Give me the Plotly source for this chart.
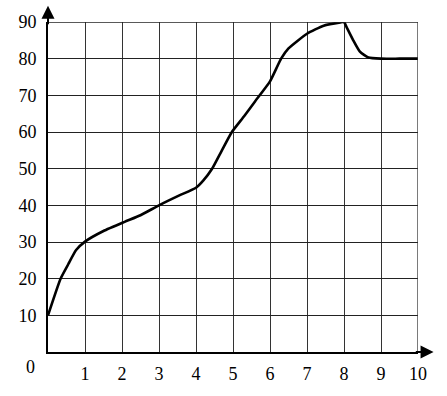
import plotly.graph_objects as go

# Curve samples
time_x = [0, 0.34, 0.55, 0.76, 1, 1.5, 2.07, 2.5, 3, 3.55, 4, 4.2, 4.43, 4.7, 4.97, 5.3, 5.6, 6, 6.3, 6.5, 7, 7.45, 7.9, 8, 8.07, 8.25, 8.43, 8.66, 9, 9.5, 10]
temp_y = [10, 20, 24, 27.8, 30.1, 33, 35.5, 37.3, 40, 42.7, 44.8, 46.8, 49.9, 55, 60, 64.3, 68.4, 73.8, 80, 82.8, 86.8, 89, 89.9, 90, 88.6, 85, 81.9, 80.3, 80, 80, 80]

x_ticks = [1, 2, 3, 4, 5, 6, 7, 8, 9, 10]
y_ticks = [10, 20, 30, 40, 50, 60, 70, 80, 90]

font = dict(family="Liberation Serif", size=18, color="black")

fig = go.Figure()
fig.add_trace(go.Scatter(x=time_x, y=temp_y, mode="lines",
                         line=dict(color="black", width=2.6, shape="spline", smoothing=0.5),
                         hoverinfo="skip", showlegend=False, cliponaxis=False))

fig.update_layout(
    width=447, height=396,
    margin=dict(l=48, r=29, t=21, b=43),
    paper_bgcolor="white", plot_bgcolor="white",
    font=font,
    xaxis=dict(range=[0, 10], tickvals=x_ticks, ticktext=[str(v) for v in x_ticks],
               showgrid=True, gridcolor="#333", gridwidth=1.3, zeroline=False,
               showline=True, linecolor="black", linewidth=2, mirror=False,
               ticks="", ticklabelstandoff=4, tickfont=font, fixedrange=True),
    yaxis=dict(range=[0, 90], tickvals=y_ticks, ticktext=[str(v) for v in y_ticks],
               showgrid=True, gridcolor="#222", gridwidth=1.3, zeroline=False,
               showline=True, linecolor="black", linewidth=2,
               ticks="", ticklabelstandoff=6, tickfont=font, fixedrange=True),
)

# Top and right border lines (grid at 90 and 10)
fig.add_shape(type="line", xref="x", yref="y", x0=0, x1=10, y0=90, y1=90,
              line=dict(color="#222", width=1.3))
fig.add_shape(type="line", xref="x", yref="y", x0=10, x1=10, y0=0, y1=90,
              line=dict(color="#333", width=1.3))

# Axis arrows
fig.add_annotation(x=10.42, y=0, ax=9.9, ay=0, xref="x", yref="y", axref="x", ayref="y",
                   text="", showarrow=True, arrowhead=2, arrowsize=1.3, arrowwidth=2, arrowcolor="black")
fig.add_annotation(x=0, y=94.4, ax=0, ay=89, xref="x", yref="y", axref="x", ayref="y",
                   text="", showarrow=True, arrowhead=2, arrowsize=1.3, arrowwidth=2, arrowcolor="black")

# Origin label
fig.add_annotation(x=0, y=0, xref="x", yref="y", text="0", showarrow=False,
                   xshift=-18, yshift=-15, font=font)

fig.write_html("out.html", config={"displayModeBar": False},
               post_script="document.body.style.margin='0';")

with open("out.html", "r", encoding="utf-8") as f:
    html = f.read()
html = html.replace("<body>", '<body style="margin:0;overflow:hidden">', 1)
with open("out.html", "w", encoding="utf-8") as f:
    f.write(html)
